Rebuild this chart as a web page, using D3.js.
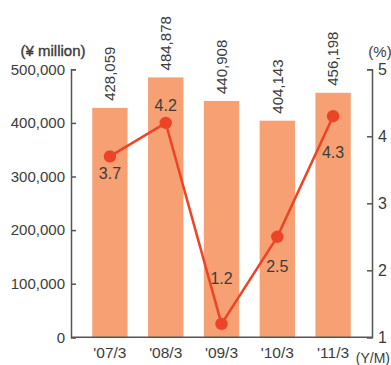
<!DOCTYPE html>
<html>
<head>
<meta charset="utf-8">
<script src="https://cdn.jsdelivr.net/npm/d3@7"></script>
<style>
  html, body { margin: 0; padding: 0; background: #fff; }
  svg { display: block; }
  text { font-family: "Liberation Sans", Arial, sans-serif; fill: #3c3c3c; }
</style>
</head>
<body>
<svg id="chart" width="391" height="365"></svg>
<script>
// Fiscal-year ends
const categories = ["'07/3", "'08/3", "'09/3", "'10/3", "'11/3"];
// Amounts in ¥ million (bars, left axis)
const amounts = [428059, 484878, 440908, 404143, 456198];
// Ratio in % (line, right axis)
const ratios = [3.7, 4.2, 1.2, 2.5, 4.3];
// Axis tick values
const leftTicks = [0, 100000, 200000, 300000, 400000, 500000];
const rightTicks = [1, 2, 3, 4, 5];

const svg = d3.select("#chart");
const plotLeft = 71, plotRight = 372, plotTop = 69.3, plotBottom = 337.3;
const barColor = "#F6A073";
const lineColor = "#EC4426";
const axisColor = "#555";
const fontSize = 15;

const x = d3.scaleBand().domain(categories).range([plotLeft, plotRight])
  .paddingInner(0.367).paddingOuter(0.381);
const yL = d3.scaleLinear().domain([0, 500000]).range([plotBottom, plotTop]);
const yR = d3.scaleLinear().domain([1, 5]).range([plotBottom, plotTop]);

// Bars
svg.append("g").selectAll("rect").data(amounts).join("rect")
  .attr("x", (d, i) => x(categories[i]))
  .attr("width", x.bandwidth())
  .attr("y", d => yL(d))
  .attr("height", d => yL(0) - yL(d))
  .attr("fill", barColor);

// Bar value labels, rotated
svg.append("g").selectAll("text").data(amounts).join("text")
  .attr("transform", (d, i) => `translate(${x(categories[i]) + x.bandwidth() / 2},${yL(d) - 7}) rotate(-90)`)
  .attr("dy", "0.36em")
  .attr("font-size", fontSize)
  .text(d => d3.format(",")(d));

// Left axis
const axL = d3.axisLeft(yL).tickValues(leftTicks).tickFormat(d3.format(","))
  .tickSize(-5).tickPadding(6);
const gL = svg.append("g").attr("transform", `translate(${plotLeft},0)`).call(axL);
gL.select(".domain").attr("stroke", axisColor).attr("stroke-width", 1.5);
gL.selectAll(".tick line").attr("stroke", axisColor).attr("stroke-width", 1.5);
gL.selectAll(".tick text").attr("font-size", fontSize).attr("fill", "#3c3c3c")
  .attr("font-family", "Liberation Sans, Arial, sans-serif");

// Right axis
const axR = d3.axisRight(yR).tickValues(rightTicks).tickFormat(d3.format("d"))
  .tickSize(-5).tickPadding(6);
const gR = svg.append("g").attr("transform", `translate(${plotRight},0)`).call(axR);
gR.select(".domain").attr("stroke", axisColor).attr("stroke-width", 1.5);
gR.selectAll(".tick line").attr("stroke", axisColor).attr("stroke-width", 1.5);
gR.selectAll(".tick text").attr("font-size", fontSize + 1).attr("fill", "#3c3c3c")
  .attr("font-family", "Liberation Sans, Arial, sans-serif");

// Bottom baseline
svg.append("line").attr("x1", plotLeft).attr("x2", plotRight).attr("y1", plotBottom).attr("y2", plotBottom)
  .attr("stroke", axisColor).attr("stroke-width", 1.5);

// Category labels
svg.append("g").selectAll("text").data(categories).join("text")
  .attr("x", d => x(d) + x.bandwidth() / 2)
  .attr("y", plotBottom + 21)
  .attr("text-anchor", "middle")
  .attr("font-size", fontSize + 0.5)
  .text(d => d);

// Ratio line and points
const line = d3.line()
  .x((d, i) => x(categories[i]) + x.bandwidth() / 2)
  .y(d => yR(d));
svg.append("path").datum(ratios).attr("d", line)
  .attr("fill", "none").attr("stroke", lineColor).attr("stroke-width", 2.5);
svg.append("g").selectAll("circle").data(ratios).join("circle")
  .attr("cx", (d, i) => x(categories[i]) + x.bandwidth() / 2)
  .attr("cy", d => yR(d))
  .attr("r", 6.2)
  .attr("fill", lineColor);

// Ratio labels: vertical offset of each label from its point
const ratioLabelDy = [23, -12, -40, 35, 42];
svg.append("g").selectAll("text").data(ratios).join("text")
  .attr("x", (d, i) => x(categories[i]) + x.bandwidth() / 2)
  .attr("y", (d, i) => yR(d) + ratioLabelDy[i])
  .attr("text-anchor", "middle")
  .attr("font-size", fontSize + 1)
  .text(d => d3.format(".1f")(d));

// Unit captions
svg.append("text").attr("x", 53).attr("y", 56).attr("text-anchor", "middle")
  .attr("font-size", fontSize).attr("fill", "#333")
  .attr("stroke", "#333").attr("stroke-width", 0.35).text("(¥ million)");
svg.append("text").attr("x", 380).attr("y", 57).attr("text-anchor", "middle")
  .attr("font-size", fontSize).text("(%)");
svg.append("text").attr("x", 390).attr("y", 363).attr("text-anchor", "end")
  .attr("font-size", fontSize - 1).text("(Y/M)");
</script>
</body>
</html>
